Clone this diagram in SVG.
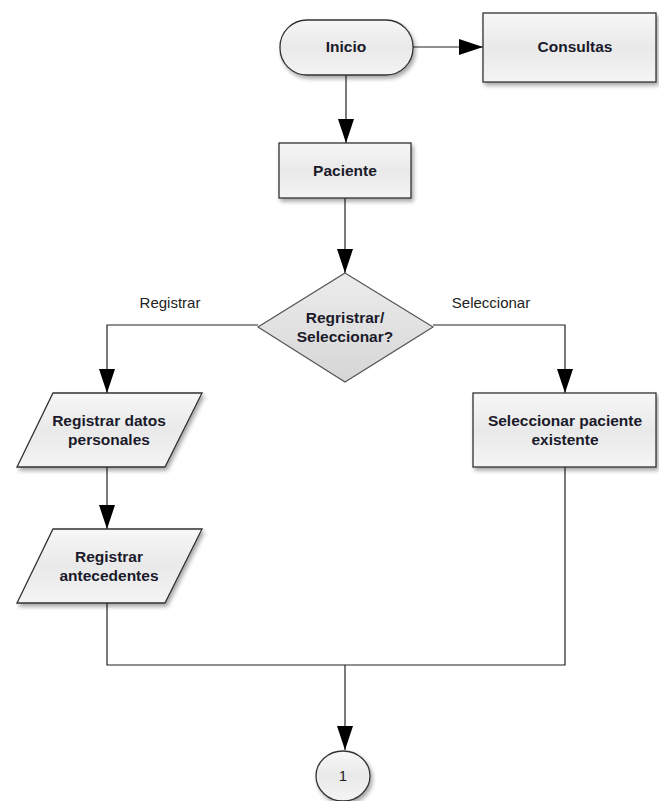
<svg xmlns="http://www.w3.org/2000/svg" width="659" height="801" viewBox="0 0 659 801">
<defs>
<linearGradient id="g" x1="0" y1="0" x2="0" y2="1">
<stop offset="0" stop-color="#f7f7f7"/>
<stop offset="0.5" stop-color="#e9e9e9"/>
<stop offset="1" stop-color="#f4f4f4"/>
</linearGradient>
<linearGradient id="gd" x1="0" y1="0" x2="0" y2="1">
<stop offset="0" stop-color="#ececec"/>
<stop offset="1" stop-color="#d6d6d6"/>
</linearGradient>
<filter id="sh" x="-10%" y="-10%" width="130%" height="140%">
<feGaussianBlur in="SourceAlpha" stdDeviation="2"/>
<feOffset dx="2" dy="3"/>
<feComponentTransfer><feFuncA type="linear" slope="0.35"/></feComponentTransfer>
<feMerge><feMergeNode/><feMergeNode in="SourceGraphic"/></feMerge>
</filter>
<marker id="ah" markerWidth="24" markerHeight="16" refX="24" refY="8" orient="auto" markerUnits="userSpaceOnUse" viewBox="0 0 24 16">
<path d="M0,0 L24,8 L0,16 Z" fill="#000"/>
</marker>
</defs>
<style>
.n{fill:url(#g);stroke:#333;stroke-width:1.3;filter:url(#sh)}
.d{fill:url(#gd);stroke:#555;stroke-width:1.2}
.t{font-family:"Liberation Sans",Arial,sans-serif;font-size:15.5px;font-weight:bold;fill:#1a1a2a;text-anchor:middle}
.l{font-family:"Liberation Sans",Arial,sans-serif;font-size:15px;fill:#222;text-anchor:middle}
.c{fill:none;stroke:#222;stroke-width:1.2}
</style>
<g id="connectors">
<path class="c" d="M413,47 H483" marker-end="url(#ah)"/>
<path class="c" d="M346,75 V143" marker-end="url(#ah)"/>
<path class="c" d="M345,198 V273" marker-end="url(#ah)"/>
<path class="c" d="M258,325 H107 V393" marker-end="url(#ah)"/>
<path class="c" d="M433,325 H565 V393" marker-end="url(#ah)"/>
<path class="c" d="M107,467 V529" marker-end="url(#ah)"/>
<path class="c" d="M107,603 V665 H565 V467"/>
<path class="c" d="M345,665 V750" marker-end="url(#ah)"/>
<text class="l" x="170" y="308">Registrar</text>
<text class="l" x="491" y="308">Seleccionar</text>
</g>
<g id="inicio">
<rect class="n" x="280" y="20" width="133" height="55" rx="27" ry="27"/>
<text class="t" x="346" y="52">Inicio</text>
</g>
<g id="consultas">
<rect class="n" x="483" y="13" width="173" height="69"/>
<text class="t" x="575" y="52">Consultas</text>
</g>
<g id="paciente">
<rect class="n" x="279" y="143" width="132" height="55"/>
<text class="t" x="345" y="176">Paciente</text>
</g>
<g id="decision">
<polygon class="d" points="345,273 433,327 345,382 258,327"/>
<text class="t" x="345" y="323">Regristrar/</text>
<text class="t" x="345" y="342">Seleccionar?</text>
</g>
<g id="datos">
<polygon class="n" points="53,393 202,393 165,467 17,467"/>
<text class="t" x="109" y="426">Registrar datos</text>
<text class="t" x="109" y="445">personales</text>
</g>
<g id="seleccionar">
<rect class="n" x="473" y="393" width="183" height="74"/>
<text class="t" x="565" y="426">Seleccionar paciente</text>
<text class="t" x="565" y="445">existente</text>
</g>
<g id="antecedentes">
<polygon class="n" points="53,529 202,529 165,603 17,603"/>
<text class="t" x="109" y="562">Registrar</text>
<text class="t" x="109" y="581">antecedentes</text>
</g>
<g id="conector1">
<ellipse class="n" cx="343" cy="776" rx="27" ry="25"/>
<text class="l" x="343" y="781">1</text>
</g>
</svg>
